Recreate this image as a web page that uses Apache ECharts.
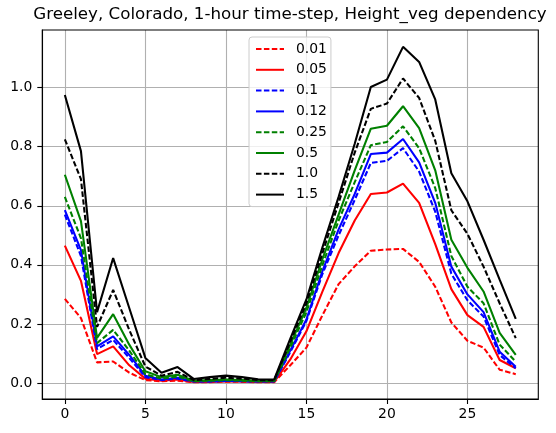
<!DOCTYPE html>
<html><head><meta charset="utf-8">
<script src="https://cdn.jsdelivr.net/npm/echarts@6/dist/echarts.min.js"></script>
<style>html,body{margin:0;padding:0;background:#fff}#c{width:556px;height:433px}</style>
</head><body><div id="c"></div><script>
const hours = [0,1,2,3,4,5,6,7,8,9,10,11,12,13,14,15,16,17,18,19,20,21,22,23,24,25,26,27,28];
const seriesNames = ['0.01','0.05','0.1','0.12','0.25','0.5','1.0','1.5'];
const h001 = [0.285,0.22,0.07,0.073,0.035,0.01,0.006,0.008,0.003,0.003,0.005,0.004,0.003,0.003,0.06,0.12,0.23,0.335,0.395,0.448,0.452,0.454,0.41,0.326,0.205,0.143,0.12,0.045,0.03];
const h005 = [0.465,0.346,0.098,0.124,0.06,0.015,0.008,0.012,0.004,0.004,0.006,0.005,0.004,0.004,0.08,0.175,0.31,0.44,0.55,0.64,0.645,0.675,0.61,0.47,0.318,0.23,0.19,0.078,0.05];
const h01  = [0.57,0.43,0.115,0.146,0.085,0.02,0.01,0.015,0.005,0.005,0.007,0.006,0.005,0.005,0.105,0.21,0.37,0.5,0.62,0.745,0.752,0.795,0.716,0.58,0.37,0.28,0.225,0.095,0.05];
const h012 = [0.585,0.45,0.124,0.158,0.095,0.025,0.012,0.018,0.006,0.006,0.008,0.007,0.006,0.006,0.11,0.215,0.38,0.52,0.64,0.775,0.78,0.826,0.747,0.61,0.394,0.3,0.24,0.106,0.055];
const h025 = [0.63,0.49,0.135,0.18,0.11,0.03,0.015,0.022,0.006,0.008,0.01,0.008,0.006,0.006,0.12,0.24,0.4,0.55,0.68,0.805,0.816,0.869,0.795,0.66,0.43,0.326,0.27,0.13,0.072];
const h05  = [0.705,0.548,0.153,0.233,0.13,0.04,0.02,0.028,0.008,0.01,0.012,0.01,0.008,0.008,0.13,0.255,0.42,0.57,0.72,0.861,0.871,0.937,0.863,0.72,0.485,0.39,0.31,0.17,0.095];
const h10  = [0.825,0.69,0.19,0.315,0.18,0.056,0.025,0.038,0.01,0.014,0.018,0.015,0.01,0.01,0.14,0.27,0.44,0.61,0.78,0.928,0.946,1.031,0.965,0.82,0.585,0.505,0.394,0.27,0.152];
const h15  = [0.975,0.785,0.24,0.423,0.254,0.085,0.035,0.054,0.014,0.02,0.025,0.02,0.013,0.012,0.15,0.283,0.46,0.63,0.81,1.002,1.027,1.138,1.087,0.96,0.71,0.615,0.485,0.35,0.217];
const xTicks = [0,5,10,15,20,25];
const yTicks = [0,0.2,0.4,0.6,0.8,1.0];

const allValues = [h001,h005,h01,h012,h025,h05,h10,h15];
const colors = ['#ff0000','#ff0000','#0000ff','#0000ff','#008000','#008000','#000000','#000000'];
const dashed = [true,false,true,false,true,false,true,false];
const FONT = 'DejaVu Sans';

const chart = echarts.init(document.getElementById('c'), null, {renderer:'canvas'});
const series = allValues.map((vals, i) => ({
  name: seriesNames[i],
  type: 'line',
  data: hours.map((h, j) => [h, vals[j]]),
  symbol: 'none',
  showSymbol: false,
  animation: false,
  lineStyle: {color: colors[i], width: 2.08, type: dashed[i] ? [5.5, 2.4] : 'solid'},
  itemStyle: {color: colors[i]}
}));

chart.setOption({
  animation: false,
  backgroundColor: '#ffffff',
  title: {
    text: 'Greeley, Colorado, 1-hour time-step, Height_veg dependency',
    left: 290, top: 6, padding: 0, textAlign: 'center',
    textStyle: {fontFamily: FONT, fontSize: 16.7, fontWeight: 'normal', color: '#000'}
  },
  legend: {
    orient: 'vertical',
    left: 249, top: 37,
    padding: [5, 4, 5, 6],
    itemWidth: 28, itemHeight: 14, itemGap: 6.8,
    itemStyle: {opacity: 0},
    backgroundColor: 'rgba(255,255,255,0.8)',
    borderColor: '#cccccc', borderWidth: 1, borderRadius: 3,
    textStyle: {fontFamily: FONT, fontSize: 13.9, color: '#000', padding: [0,0,0,7]},
    data: seriesNames
  },
  grid: {left: 42.3, right: 17.7, top: 30, bottom: 34, containLabel: false},
  xAxis: {
    type: 'value', min: -1.4, max: 29.4,
    axisLine: {show: true, onZero: false, lineStyle: {color: '#000', width: 1.1}},
    axisTick: {show: true, length: 5, lineStyle: {color: '#000', width: 1.1}, customValues: xTicks},
    axisLabel: {customValues: xTicks, margin: 8, fontFamily: FONT, fontSize: 13.9, color: '#000'},
    splitLine: {show: true, lineStyle: {color: '#b0b0b0', width: 1.1}}
  },
  yAxis: {
    type: 'value', min: -0.054, max: 1.195,
    axisLine: {show: true, onZero: false, lineStyle: {color: '#000', width: 1.1}},
    axisTick: {show: true, length: 5, lineStyle: {color: '#000', width: 1.1}, customValues: yTicks},
    axisLabel: {customValues: yTicks, margin: 10, fontFamily: FONT, fontSize: 13.9, color: '#000',
      formatter: v => v.toFixed(1)},
    splitLine: {show: true, lineStyle: {color: '#b0b0b0', width: 1.1}}
  },
  graphic: [{
    type: 'rect', shape: {x: 42.3, y: 30, width: 496, height: 369},
    style: {fill: 'none', stroke: '#000', lineWidth: 1.1}, z: 100, silent: true
  }],
  series: series
});
</script></body></html>
